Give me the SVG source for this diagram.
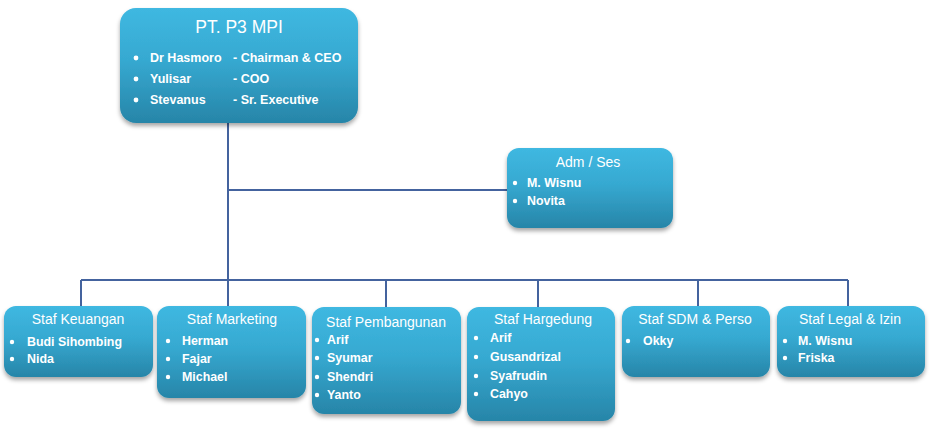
<svg xmlns="http://www.w3.org/2000/svg" width="930" height="443" viewBox="0 0 930 443">
<defs>
<linearGradient id="g" x1="0" y1="0" x2="0" y2="1">
<stop offset="0" stop-color="#3fb8e1"/>
<stop offset="0.45" stop-color="#36a9d1"/>
<stop offset="1" stop-color="#2785a8"/>
</linearGradient>
<filter id="sh" x="-10%" y="-10%" width="120%" height="135%">
<feDropShadow dx="0" dy="3" stdDeviation="2.2" flood-color="#000" flood-opacity="0.35"/>
</filter>
</defs>
<style>
.box{fill:url(#g);filter:url(#sh)}
.t{font-family:"Liberation Sans",Arial,sans-serif;fill:#fff}
.h{font-size:14px;text-anchor:middle}
.i{font-size:12.4px;font-weight:bold}
.b{fill:#fff}
.c{stroke:#44639e;stroke-width:2;fill:none}
</style>
<rect width="930" height="443" fill="#fff"/>
<g id="connectors">
<path class="c" d="M228 123V306M228 190H507M81 280H848M81 280V306M386 280V307M538 280V307M698 280V306M848 280V306"/>
</g>
<g id="pt-p3-mpi">
<rect class="box" x="120" y="8" width="238" height="115" rx="16"/>
<text class="t" x="239" y="33" font-size="17.5" text-anchor="middle">PT. P3 MPI</text>
<circle class="b" cx="136" cy="58" r="2.4"/><circle class="b" cx="136" cy="79" r="2.4"/><circle class="b" cx="136" cy="100" r="2.4"/>
<text class="t" font-size="12.5" font-weight="bold"><tspan x="150" y="62">Dr Hasmoro</tspan><tspan x="150" y="83">Yulisar</tspan><tspan x="150" y="104">Stevanus</tspan></text>
<text class="t" font-size="12.5" font-weight="bold"><tspan x="233" y="62">- Chairman &amp; CEO</tspan><tspan x="233" y="83">- COO</tspan><tspan x="233" y="104">- Sr. Executive</tspan></text>
</g>
<g id="adm-ses">
<rect class="box" x="507" y="148" width="166" height="80" rx="12"/>
<text class="t h" x="588" y="167">Adm / Ses</text>
<circle class="b" cx="515" cy="183" r="2.2"/><circle class="b" cx="515" cy="201" r="2.2"/>
<text class="t i"><tspan x="527" y="187">M. Wisnu</tspan><tspan x="527" y="205">Novita</tspan></text>
</g>
<g id="staf-keuangan">
<rect class="box" x="4" y="306" width="149" height="71" rx="12"/>
<text class="t h" x="78" y="324">Staf Keuangan</text>
<circle class="b" cx="12" cy="342" r="2.2"/><circle class="b" cx="12" cy="359" r="2.2"/>
<text class="t i"><tspan x="27" y="346">Budi Sihombing</tspan><tspan x="27" y="363">Nida</tspan></text>
</g>
<g id="staf-marketing">
<rect class="box" x="157" y="306" width="149" height="92" rx="12"/>
<text class="t h" x="232" y="324">Staf Marketing</text>
<circle class="b" cx="168" cy="341" r="2.2"/><circle class="b" cx="168" cy="359" r="2.2"/><circle class="b" cx="168" cy="377" r="2.2"/>
<text class="t i"><tspan x="182" y="345">Herman</tspan><tspan x="182" y="363">Fajar</tspan><tspan x="182" y="381">Michael</tspan></text>
</g>
<g id="staf-pembangunan">
<rect class="box" x="312" y="307" width="149" height="107" rx="12"/>
<text class="t h" x="386" y="327">Staf Pembangunan</text>
<circle class="b" cx="317" cy="340" r="2.2"/><circle class="b" cx="317" cy="358" r="2.2"/><circle class="b" cx="317" cy="377" r="2.2"/><circle class="b" cx="317" cy="395" r="2.2"/>
<text class="t i"><tspan x="327" y="344">Arif</tspan><tspan x="327" y="362">Syumar</tspan><tspan x="327" y="381">Shendri</tspan><tspan x="327" y="399">Yanto</tspan></text>
</g>
<g id="staf-hargedung">
<rect class="box" x="467" y="307" width="148" height="114" rx="12"/>
<text class="t h" x="543" y="324">Staf Hargedung</text>
<circle class="b" cx="476" cy="338" r="2.2"/><circle class="b" cx="476" cy="357" r="2.2"/><circle class="b" cx="476" cy="376" r="2.2"/><circle class="b" cx="476" cy="394" r="2.2"/>
<text class="t i"><tspan x="490" y="342">Arif</tspan><tspan x="490" y="361">Gusandrizal</tspan><tspan x="490" y="380">Syafrudin</tspan><tspan x="490" y="398">Cahyo</tspan></text>
</g>
<g id="staf-sdm-perso">
<rect class="box" x="622" y="306" width="148" height="71" rx="12"/>
<text class="t h" x="695" y="324">Staf SDM &amp; Perso</text>
<circle class="b" cx="628" cy="341" r="2.2"/>
<text class="t i"><tspan x="643" y="345">Okky</tspan></text>
</g>
<g id="staf-legal-izin">
<rect class="box" x="777" y="306" width="148" height="71" rx="12"/>
<text class="t h" x="850" y="324">Staf Legal &amp; Izin</text>
<circle class="b" cx="785" cy="341" r="2.2"/><circle class="b" cx="785" cy="358" r="2.2"/>
<text class="t i"><tspan x="798" y="345">M. Wisnu</tspan><tspan x="798" y="362">Friska</tspan></text>
</g>
</svg>
